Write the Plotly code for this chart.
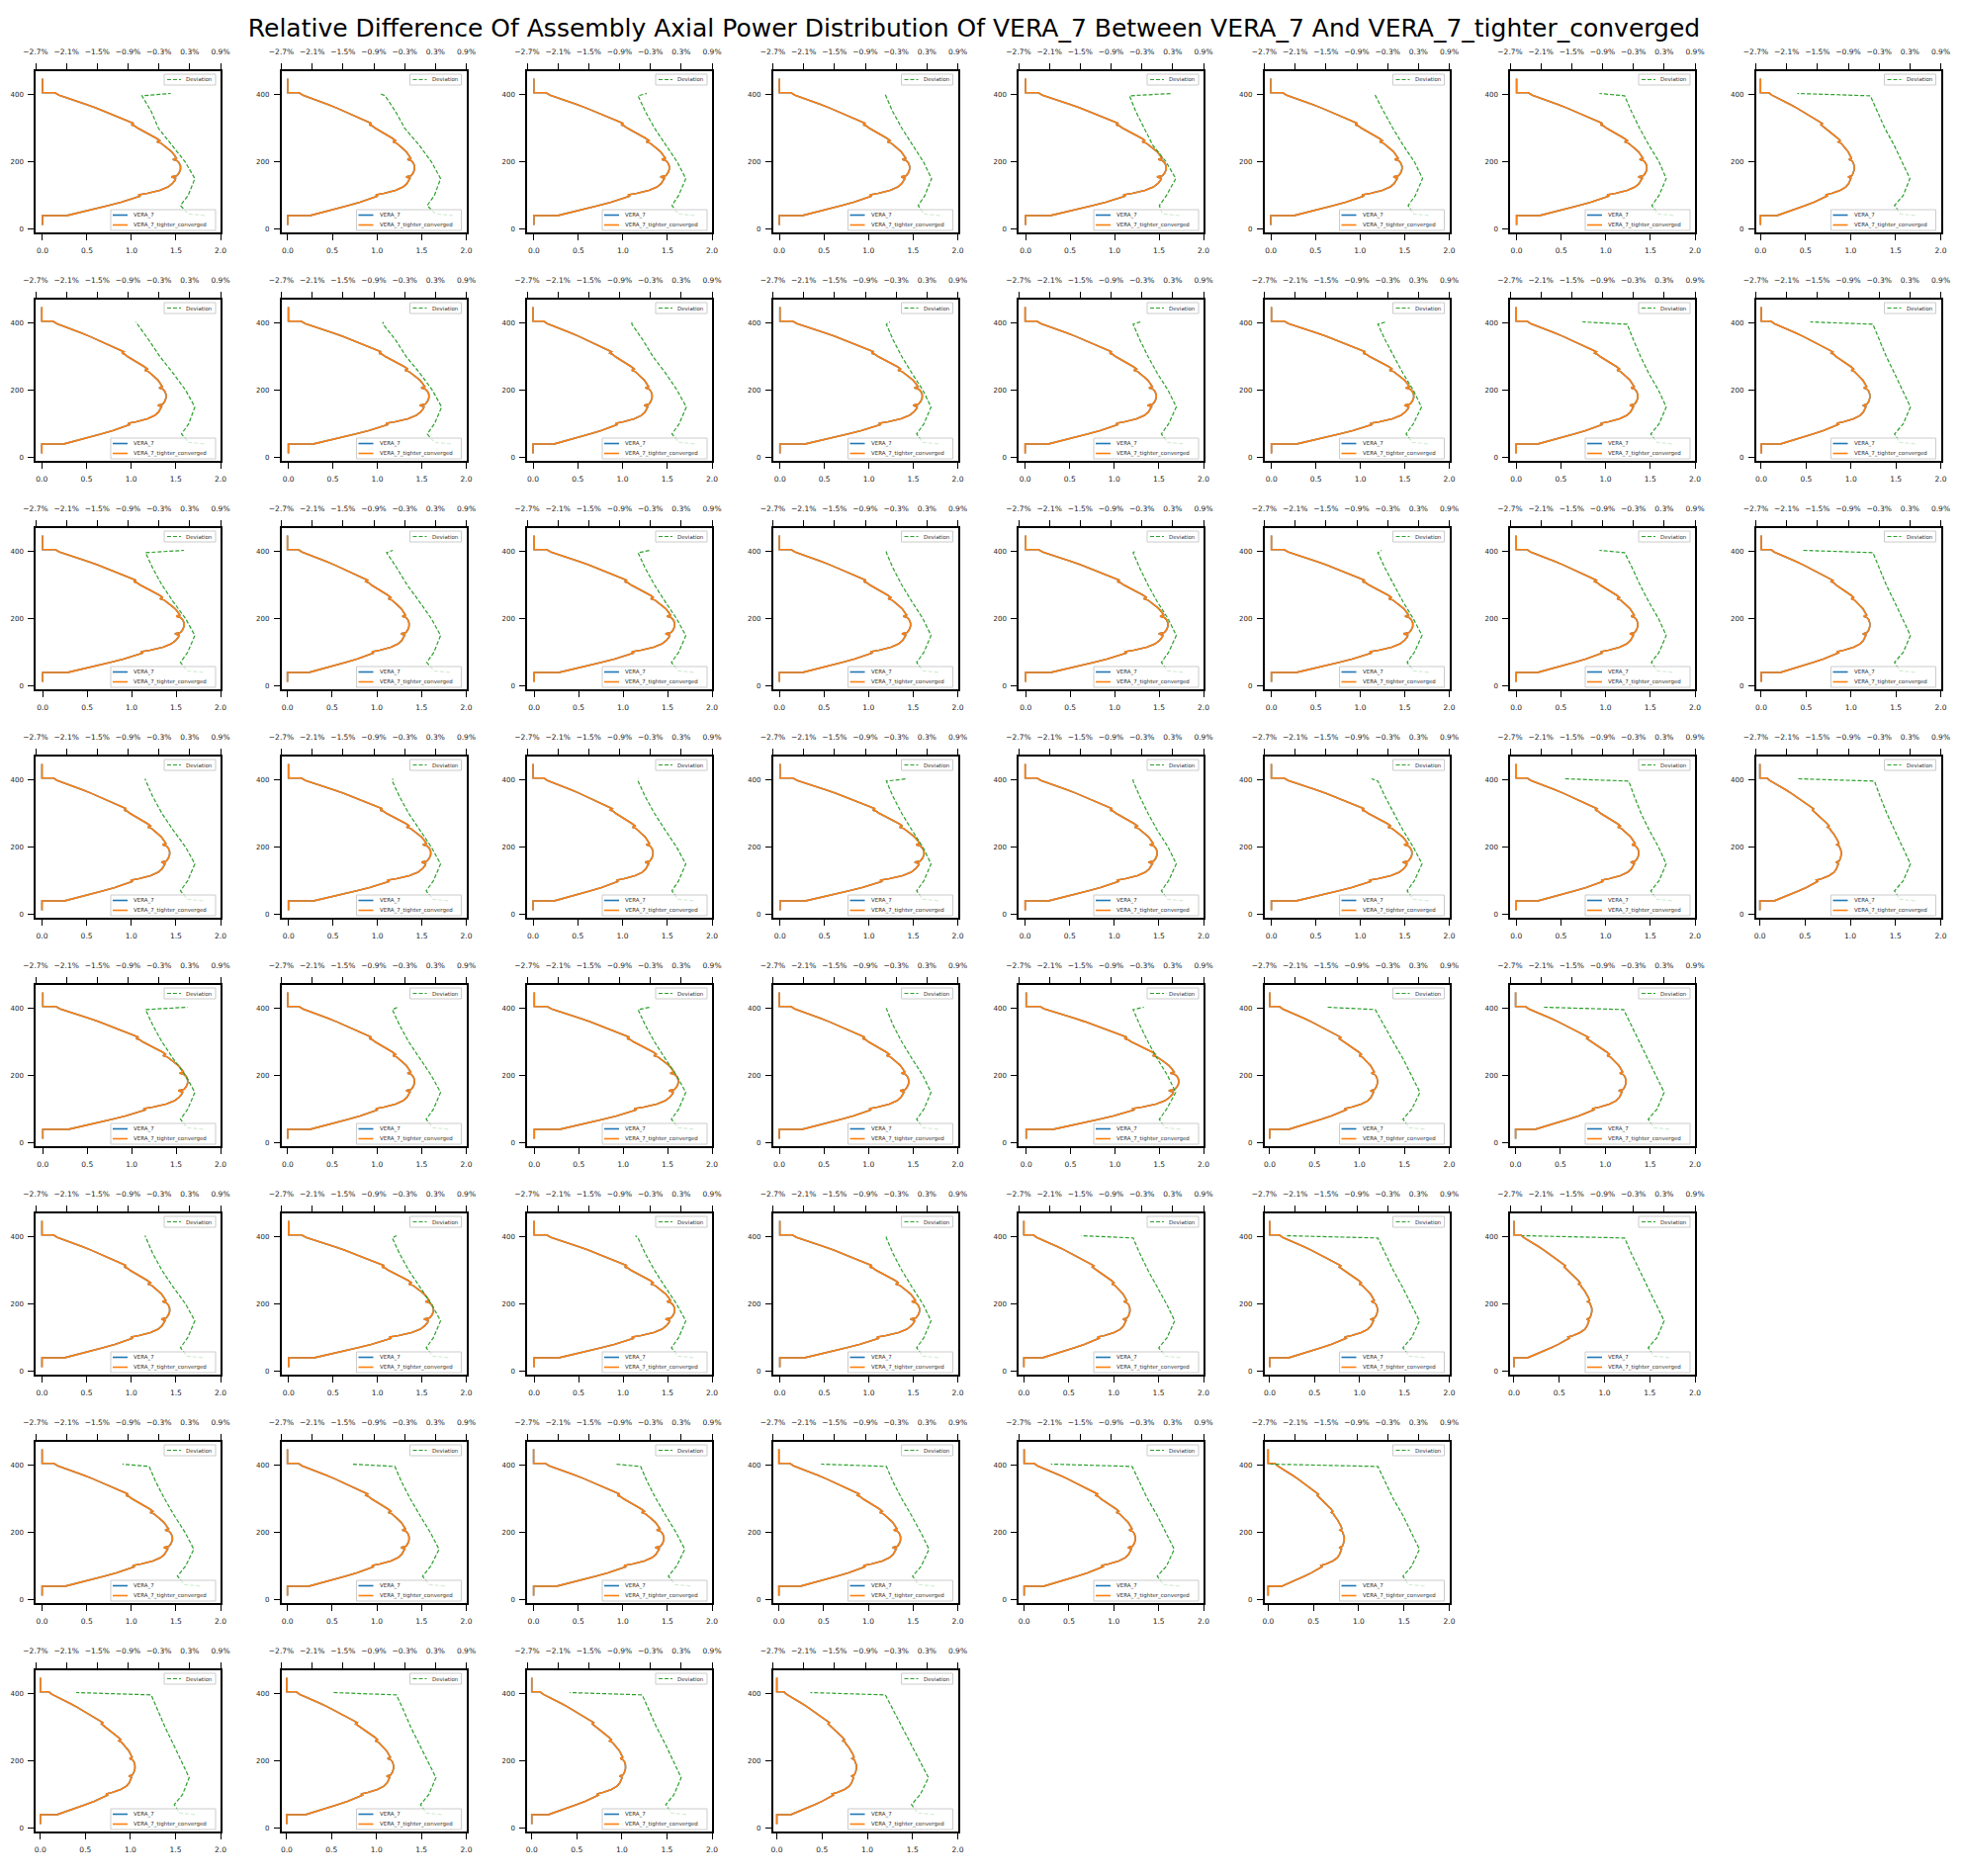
import plotly.graph_objects as go

TITLE = ("Relative Difference Of Assembly Axial Power Distribution Of VERA_7 "
         "Between VERA_7 And VERA_7_tighter_converged")

# number of assemblies (panels) drawn in each row of the quarter core
ROW_COUNTS = [8, 8, 8, 8, 7, 7, 6, 4]

# axial mesh heights (cm) and normalized axial power shape
axial_height = [11.9, 40.0, 40.5, 50, 60, 70, 80, 90, 98, 102, 106, 115, 125, 135, 145,
                151, 155, 159, 167, 177, 187, 197, 203, 207, 211, 220, 230, 240, 250,
                255, 259, 263, 270, 280, 290, 300, 306, 310, 314, 320, 330, 340, 350,
                360, 370, 380, 390, 398, 405, 405.5, 447.3]
axial_shape = [0, 0, 0.18, 0.28, 0.38, 0.48, 0.57, 0.65, 0.71, 0.695, 0.76, 0.85, 0.91,
               0.94, 0.96, 0.965, 0.935, 0.975, 0.99, 1.0, 1.0, 0.99, 0.975, 0.945, 0.97,
               0.955, 0.935, 0.905, 0.87, 0.86, 0.83, 0.85, 0.825, 0.78, 0.73, 0.69,
               0.67, 0.645, 0.66, 0.625, 0.57, 0.51, 0.45, 0.385, 0.32, 0.25, 0.17, 0.12,
               0.09, 0, 0]

# peak relative assembly power of every panel (row by row)
peak_power = [
    1.55, 1.42, 1.52, 1.46, 1.58, 1.47, 1.46, 1.04,
    1.39, 1.58, 1.33, 1.60, 1.47, 1.60, 1.36, 1.21,
    1.59, 1.36, 1.58, 1.47, 1.60, 1.59, 1.36, 1.21,
    1.43, 1.60, 1.34, 1.62, 1.48, 1.58, 1.37, 0.90,
    1.63, 1.42, 1.62, 1.45, 1.72, 1.20, 1.23,
    1.43, 1.63, 1.58, 1.57, 1.18, 1.20, 0.86,
    1.46, 1.36, 1.46, 1.36, 1.24, 0.84,
    1.05, 1.19, 1.04, 0.88,
]

# relative deviation (%) heights and values for every panel
dev_height = [40.5, 45, 70, 100, 150, 200, 250, 300, 350, 396, 403]
deviation = [
    [0.59, 0.27, 0.12, 0.27, 0.40, 0.21, -0.05, -0.31, -0.45, -0.63, -0.07],
    [0.64, 0.30, 0.14, 0.28, 0.40, 0.22, -0.02, -0.30, -0.48, -0.68, -0.78],
    [0.56, 0.25, 0.12, 0.25, 0.39, 0.22, 0.00, -0.22, -0.40, -0.54, -0.37],
    [0.55, 0.24, 0.13, 0.26, 0.39, 0.23, 0.02, -0.19, -0.37, -0.50, -0.52],
    [0.43, 0.10, 0.04, 0.18, 0.36, 0.17, -0.09, -0.26, -0.42, -0.54, 0.28],
    [0.50, 0.20, 0.10, 0.24, 0.38, 0.22, 0.00, -0.20, -0.38, -0.54, -0.56],
    [0.48, 0.18, 0.06, 0.20, 0.34, 0.20, 0.00, -0.18, -0.34, -0.47, -0.96],
    [0.40, 0.12, 0.00, 0.17, 0.30, 0.15, -0.01, -0.19, -0.33, -0.47, -1.89],

    [0.58, 0.28, 0.14, 0.28, 0.40, 0.22, -0.02, -0.28, -0.50, -0.73, -0.75],
    [0.60, 0.28, 0.14, 0.28, 0.42, 0.24, 0.00, -0.27, -0.48, -0.72, -0.72],
    [0.56, 0.26, 0.12, 0.26, 0.40, 0.22, 0.00, -0.25, -0.45, -0.66, -0.66],
    [0.52, 0.22, 0.10, 0.24, 0.38, 0.22, 0.01, -0.19, -0.36, -0.49, -0.42],
    [0.50, 0.20, 0.08, 0.22, 0.37, 0.21, 0.00, -0.18, -0.34, -0.47, -0.33],
    [0.48, 0.18, 0.06, 0.20, 0.36, 0.20, 0.00, -0.18, -0.35, -0.49, -0.33],
    [0.45, 0.16, 0.04, 0.20, 0.34, 0.19, 0.00, -0.16, -0.30, -0.42, -1.29],
    [0.40, 0.10, 0.00, 0.17, 0.31, 0.16, 0.00, -0.16, -0.30, -0.42, -1.64],

    [0.56, 0.25, 0.12, 0.26, 0.40, 0.22, -0.02, -0.24, -0.42, -0.56, 0.19],
    [0.58, 0.27, 0.13, 0.27, 0.40, 0.22, -0.01, -0.25, -0.45, -0.65, -0.53],
    [0.54, 0.24, 0.11, 0.25, 0.39, 0.21, -0.01, -0.22, -0.40, -0.54, -0.30],
    [0.52, 0.22, 0.10, 0.24, 0.38, 0.22, 0.01, -0.19, -0.36, -0.49, -0.49],
    [0.50, 0.20, 0.08, 0.22, 0.37, 0.21, 0.00, -0.18, -0.34, -0.47, -0.41],
    [0.50, 0.20, 0.08, 0.22, 0.37, 0.20, 0.00, -0.18, -0.35, -0.49, -0.42],
    [0.46, 0.17, 0.05, 0.20, 0.34, 0.19, 0.00, -0.17, -0.32, -0.47, -0.96],
    [0.40, 0.10, 0.00, 0.17, 0.31, 0.16, 0.00, -0.16, -0.30, -0.42, -1.78],

    [0.56, 0.26, 0.12, 0.26, 0.40, 0.22, -0.02, -0.24, -0.42, -0.56, -0.57],
    [0.55, 0.25, 0.12, 0.26, 0.40, 0.22, 0.00, -0.22, -0.40, -0.54, -0.53],
    [0.54, 0.24, 0.12, 0.25, 0.39, 0.21, -0.01, -0.22, -0.40, -0.54, -0.54],
    [0.52, 0.22, 0.10, 0.24, 0.38, 0.22, 0.01, -0.19, -0.36, -0.49, -0.09],
    [0.50, 0.20, 0.08, 0.22, 0.37, 0.21, 0.00, -0.18, -0.34, -0.47, -0.47],
    [0.50, 0.20, 0.08, 0.22, 0.37, 0.20, 0.00, -0.18, -0.35, -0.49, -0.61],
    [0.45, 0.15, 0.04, 0.20, 0.34, 0.19, 0.01, -0.15, -0.28, -0.39, -1.64],
    [0.40, 0.10, 0.00, 0.17, 0.31, 0.16, 0.00, -0.15, -0.28, -0.39, -1.88],

    [0.56, 0.25, 0.12, 0.26, 0.40, 0.22, -0.02, -0.24, -0.42, -0.56, 0.26],
    [0.55, 0.25, 0.12, 0.26, 0.40, 0.22, 0.00, -0.22, -0.40, -0.54, -0.43],
    [0.54, 0.24, 0.11, 0.25, 0.39, 0.21, -0.01, -0.22, -0.40, -0.54, -0.30],
    [0.52, 0.22, 0.10, 0.24, 0.38, 0.22, 0.01, -0.19, -0.36, -0.49, -0.50],
    [0.45, 0.15, 0.04, 0.18, 0.36, 0.20, 0.00, -0.18, -0.34, -0.47, -0.26],
    [0.42, 0.12, 0.00, 0.17, 0.33, 0.17, 0.00, -0.19, -0.37, -0.54, -1.48],
    [0.40, 0.10, -0.01, 0.16, 0.30, 0.14, -0.02, -0.19, -0.34, -0.49, -2.04],

    [0.55, 0.25, 0.12, 0.26, 0.40, 0.22, -0.02, -0.24, -0.42, -0.56, -0.57],
    [0.55, 0.25, 0.12, 0.26, 0.40, 0.22, 0.00, -0.22, -0.40, -0.54, -0.46],
    [0.54, 0.24, 0.11, 0.25, 0.39, 0.21, -0.01, -0.22, -0.40, -0.54, -0.59],
    [0.52, 0.22, 0.10, 0.24, 0.38, 0.22, 0.01, -0.19, -0.36, -0.49, -0.49],
    [0.45, 0.15, 0.03, 0.19, 0.34, 0.18, 0.00, -0.18, -0.34, -0.47, -1.48],
    [0.42, 0.12, 0.00, 0.17, 0.32, 0.16, -0.01, -0.19, -0.35, -0.49, -2.30],
    [0.40, 0.10, -0.01, 0.16, 0.30, 0.14, -0.02, -0.19, -0.34, -0.47, -2.46],

    [0.50, 0.20, 0.06, 0.22, 0.38, 0.21, 0.00, -0.19, -0.36, -0.49, -1.01],
    [0.48, 0.18, 0.05, 0.21, 0.37, 0.20, 0.00, -0.19, -0.36, -0.49, -1.34],
    [0.48, 0.18, 0.05, 0.21, 0.37, 0.20, 0.00, -0.19, -0.36, -0.49, -0.99],
    [0.45, 0.14, 0.02, 0.19, 0.34, 0.18, 0.00, -0.19, -0.36, -0.49, -1.76],
    [0.43, 0.12, 0.00, 0.18, 0.33, 0.17, 0.00, -0.19, -0.35, -0.49, -2.07],
    [0.42, 0.11, 0.00, 0.17, 0.32, 0.16, 0.00, -0.19, -0.35, -0.49, -2.58],

    [0.40, 0.10, 0.00, 0.16, 0.29, 0.14, -0.02, -0.18, -0.32, -0.45, -1.91],
    [0.42, 0.12, 0.01, 0.17, 0.31, 0.15, -0.01, -0.18, -0.32, -0.46, -1.70],
    [0.40, 0.11, 0.00, 0.16, 0.30, 0.15, -0.01, -0.18, -0.32, -0.46, -1.87],
    [0.44, 0.12, 0.00, 0.17, 0.33, 0.16, -0.01, -0.19, -0.35, -0.51, -1.97],
]

dev_ticks = [-2.7, -2.1, -1.5, -0.9, -0.3, 0.3, 0.9]
dev_ticktext = ["\u22122.7%", "\u22122.1%", "\u22121.5%", "\u22120.9%", "\u22120.3%", "0.3%", "0.9%"]
power_ticks = [0.0, 0.5, 1.0, 1.5, 2.0]
power_ticktext = ["0.0", "0.5", "1.0", "1.5", "2.0"]
height_ticks = [0, 200, 400]
height_ticktext = ["0", "200", "400"]

SERIES_NAMES = ["VERA_7", "VERA_7_tighter_converged", "Deviation"]
C_BLUE, C_ORANGE, C_GREEN = "#1f77b4", "#ff7f0e", "#2ca02c"

# ---------------- layout geometry (pixels) ----------------
W, H = 1984, 1897
SHIFT = 8.0          # page body margin compensation
LEFT, COL_PITCH, PW = 36.0 - SHIFT, 248.5, 187.0
TOP, ROW_PITCH, PH = 72.0 - SHIFT, 231.0, 163.0
FONT = "DejaVu Sans"


def nm(i):
    return "" if i == 1 else str(i)


def fx(px):
    return px / W


def fy(py):
    return 1 - py / H


common = dict(showgrid=False, zeroline=False, showline=True, linecolor="black",
              linewidth=1.5, ticks="outside", ticklen=6, tickwidth=1.3,
              tickcolor="black", fixedrange=True, automargin=False,
              tickfont=dict(family=FONT, size=7.5, color="#222222"))

fig = go.Figure()
axes = {}
shapes = []
annotations = []

ylo_d, yhi_d = min(axial_height), max(axial_height)
ypad = 0.05 * (yhi_d - ylo_d)

k = 0
for r, n in enumerate(ROW_COUNTS):
    for c in range(n):
        k += 1
        peak = peak_power[k - 1]
        power = [round(s * peak, 4) for s in axial_shape]
        dev = deviation[k - 1]
        X0 = LEFT + c * COL_PITCH
        X1 = X0 + PW
        Y0 = TOP + r * ROW_PITCH
        Y1 = Y0 + PH
        xb, xt, ya = 2 * k - 1, 2 * k, k

        for col, name in ((C_BLUE, SERIES_NAMES[0]), (C_ORANGE, SERIES_NAMES[1])):
            fig.add_trace(go.Scatter(x=power, y=axial_height, mode="lines", name=name,
                                     line=dict(color=col, width=1.6),
                                     xaxis="x" + nm(xb), yaxis="y" + nm(ya),
                                     showlegend=False, hoverinfo="skip"))
        fig.add_trace(go.Scatter(x=dev, y=dev_height, mode="lines", name=SERIES_NAMES[2],
                                 line=dict(color=C_GREEN, width=1.2, dash="4px,2px"),
                                 xaxis="x" + nm(xt), yaxis="y" + nm(ya),
                                 showlegend=False, hoverinfo="skip"))

        pmin, pmax = min(power), max(power)
        axes["xaxis" + nm(xb)] = dict(common, domain=[fx(X0), fx(X1)], anchor="y" + nm(ya),
                                      range=[pmin - 0.05 * (pmax - pmin), 2.0],
                                      tickvals=power_ticks, ticktext=power_ticktext,
                                      ticklabelstandoff=4)
        axes["xaxis" + nm(xt)] = dict(common, overlaying="x" + nm(xb), side="top",
                                      anchor="y" + nm(ya), range=[-2.7, 0.9],
                                      tickvals=dev_ticks, ticktext=dev_ticktext,
                                      ticklabelstandoff=6)
        axes["yaxis" + nm(ya)] = dict(common, domain=[fy(Y1), fy(Y0)], anchor="x" + nm(xb),
                                      range=[ylo_d - ypad, yhi_d + ypad], mirror=True,
                                      tickvals=height_ticks, ticktext=height_ticktext,
                                      ticklabelstandoff=3,
                                      tickfont=dict(family=FONT, size=7, color="#222222"))

        # legend: Deviation (upper right)
        bx0, bx1, by0, by1 = X1 - 57, X1 - 5, Y0 + 3, Y0 + 14
        shapes.append(dict(type="rect", xref="paper", yref="paper",
                           x0=fx(bx0), x1=fx(bx1), y0=fy(by1), y1=fy(by0),
                           line=dict(color="#cccccc", width=1),
                           fillcolor="rgba(255,255,255,0.8)"))
        ym = (by0 + by1) / 2
        shapes.append(dict(type="line", xref="paper", yref="paper",
                           x0=fx(bx0 + 3), x1=fx(bx0 + 17), y0=fy(ym), y1=fy(ym),
                           line=dict(color=C_GREEN, width=1.2, dash="4px,2px")))
        annotations.append(dict(xref="paper", yref="paper", x=fx(bx0 + 20), y=fy(ym),
                                text=SERIES_NAMES[2], showarrow=False, xanchor="left",
                                yanchor="middle", font=dict(family=FONT, size=5.5,
                                                            color="#333333")))
        # legend: VERA_7 / VERA_7_tighter_converged (lower right)
        bx0, bx1, by0, by1 = X1 - 111, X1 - 5, Y1 - 23, Y1 - 2
        shapes.append(dict(type="rect", xref="paper", yref="paper",
                           x0=fx(bx0), x1=fx(bx1), y0=fy(by1), y1=fy(by0),
                           line=dict(color="#cccccc", width=1),
                           fillcolor="rgba(255,255,255,0.8)"))
        for yy, col, name in ((by0 + 5.5, C_BLUE, SERIES_NAMES[0]),
                              (by0 + 15.5, C_ORANGE, SERIES_NAMES[1])):
            shapes.append(dict(type="line", xref="paper", yref="paper",
                               x0=fx(bx0 + 2), x1=fx(bx0 + 17), y0=fy(yy), y1=fy(yy),
                               line=dict(color=col, width=1.6)))
            annotations.append(dict(xref="paper", yref="paper", x=fx(bx0 + 21), y=fy(yy),
                                    text=name, showarrow=False, xanchor="left",
                                    yanchor="middle", font=dict(family=FONT, size=5.5,
                                                                color="#333333")))

fig.update_layout(
    width=W, height=H,
    margin=dict(l=0, r=0, t=0, b=0, autoexpand=False),
    paper_bgcolor="white", plot_bgcolor="white",
    showlegend=False,
    title=dict(text=TITLE, x=(985 - SHIFT) / W, y=1 - (28 - SHIFT) / H,
               xanchor="center", yanchor="middle",
               xref="paper", yref="container",
               font=dict(family=FONT, size=25, color="black")),
    shapes=shapes, annotations=annotations,
    **axes,
)

fig.write_html("out.html")
